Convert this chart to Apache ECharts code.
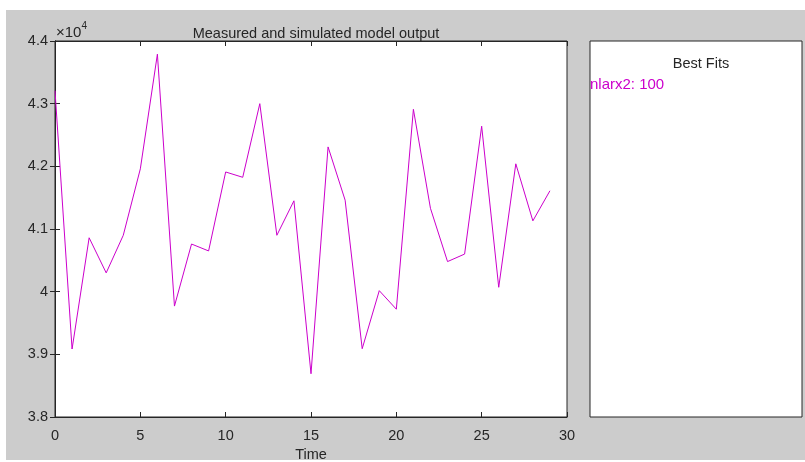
<!DOCTYPE html>
<html>
<head>
<meta charset="utf-8">
<script src="https://cdn.jsdelivr.net/npm/echarts@6/dist/echarts.min.js"></script>
<style>
  html, body { margin: 0; padding: 0; background: #fff; }
  #chart { width: 805px; height: 462px; }
</style>
</head>
<body>
<div id="chart"></div>
<script>
// sample index (Time) and simulated output of nlarx2
const timeSteps = [0, 1, 2, 3, 4, 5, 6, 7, 8, 9, 10, 11, 12, 13, 14, 15, 16, 17, 18, 19, 20, 21, 22, 23, 24, 25, 26, 27, 28, 29];
const nlarx2Output = [43207, 39085, 40860, 40300, 40900, 41960, 43790, 39770, 40760, 40650,
                      41910, 41825, 43000, 40900, 41450, 38690, 42310, 41460, 39090, 40016,
                      39720, 42910, 41330, 40480, 40600, 42640, 40070, 42040, 41130, 41610];
const yTicks = [38000, 39000, 40000, 41000, 42000, 43000, 44000];
const modelNames = ['nlarx2'];
const fitPercent = [100];

const chartDom = document.getElementById('chart');
const myChart = echarts.init(chartDom);

const axisColor = '#262626';
const lineColor = '#cc00cc';
const font = 'Liberation Sans, Arial, Helvetica, sans-serif';
const fs = 14.5;

const option = {
    backgroundColor: '#fff',
    animation: false,
    textStyle: { fontFamily: font },
    title: [
        {
            text: 'Measured and simulated model output',
            left: 311, top: 21, textAlign: 'center',
            textStyle: { fontSize: fs, fontWeight: 'normal', color: axisColor, fontFamily: font }
        },
        {
            text: 'Best Fits',
            left: 696, top: 51, textAlign: 'center',
            textStyle: { fontSize: fs, fontWeight: 'normal', color: axisColor, fontFamily: font }
        }
    ],
    legend: {
        left: 590, top: 77,
        orient: 'vertical',
        icon: 'none',
        itemWidth: 0,
        itemGap: 4,
        padding: 0,
        selectedMode: false,
        data: modelNames,
        formatter: (name) => name + ': ' + fitPercent[modelNames.indexOf(name)],
        textStyle: { color: lineColor, fontSize: 15, fontFamily: font, padding: [0, 0, 0, -5] }
    },
    graphic: [
        {
            type: 'rect', z: -10, silent: true,
            shape: { x: 6, y: 10, width: 799, height: 450 },
            style: { fill: '#cccccc' }
        },
        {
            type: 'text', left: 56, top: 21, z: 10,
            style: {
                text: '{a|×10}{b|4}',
                rich: {
                    a: { fontSize: 15, fill: axisColor, fontFamily: font, verticalAlign: 'bottom' },
                    b: { fontSize: 10, fill: axisColor, fontFamily: font, verticalAlign: 'top', padding: [0, 0, 9, 0] }
                }
            }
        }
    ],
    grid: [
        {
            left: 55, top: 41, width: 512, height: 376, outerBoundsMode: 'none',
            show: true, backgroundColor: '#fff', borderColor: axisColor, borderWidth: 1
        },
        {
            left: 590, top: 41, width: 212, height: 376, outerBoundsMode: 'none',
            show: true, backgroundColor: '#fff', borderColor: axisColor, borderWidth: 1
        }
    ],
    xAxis: [
        {
            type: 'value', gridIndex: 0, min: 0, max: 30, interval: 5,
            name: 'Time', nameLocation: 'middle', nameGap: 29,
            nameTextStyle: { fontSize: fs, color: axisColor, fontFamily: font },
            axisLine: { show: true, lineStyle: { color: axisColor } },
            axisTick: { inside: true, length: 5, lineStyle: { color: axisColor } },
            axisLabel: { fontSize: fs, color: axisColor, margin: 11, fontFamily: font },
            splitLine: { show: false }
        },
        {
            type: 'value', gridIndex: 0, min: 0, max: 30, interval: 5, position: 'top',
            axisLine: { show: true, lineStyle: { color: axisColor } },
            axisTick: { inside: true, length: 5, lineStyle: { color: axisColor } },
            axisLabel: { show: false },
            splitLine: { show: false }
        },
        {
            type: 'value', gridIndex: 1, show: false
        }
    ],
    yAxis: [
        {
            type: 'value', gridIndex: 0, min: yTicks[0], max: yTicks[yTicks.length - 1], interval: 1000,
            axisLine: { show: true, lineStyle: { color: axisColor } },
            axisTick: { inside: true, length: 5, lineStyle: { color: axisColor } },
            axisLabel: {
                fontSize: fs, color: axisColor, margin: 7, fontFamily: font,
                formatter: (v) => String(parseFloat((v / 10000).toFixed(2)))
            },
            splitLine: { show: false }
        },
        {
            type: 'value', gridIndex: 0, min: yTicks[0], max: yTicks[yTicks.length - 1], interval: 1000, position: 'right',
            axisLine: { show: true, lineStyle: { color: axisColor } },
            axisTick: { inside: true, length: 5, lineStyle: { color: axisColor } },
            axisLabel: { show: false },
            splitLine: { show: false }
        },
        {
            type: 'value', gridIndex: 1, show: false
        }
    ],
    series: [
        {
            name: 'nlarx2',
            type: 'line',
            xAxisIndex: 0, yAxisIndex: 0,
            data: timeSteps.map((t, i) => [t, nlarx2Output[i]]),
            showSymbol: false,
            symbol: 'none',
            lineStyle: { color: lineColor, width: 1 },
            itemStyle: { color: lineColor }
        }
    ]
};

option && myChart.setOption(option);
</script>
</body>
</html>
